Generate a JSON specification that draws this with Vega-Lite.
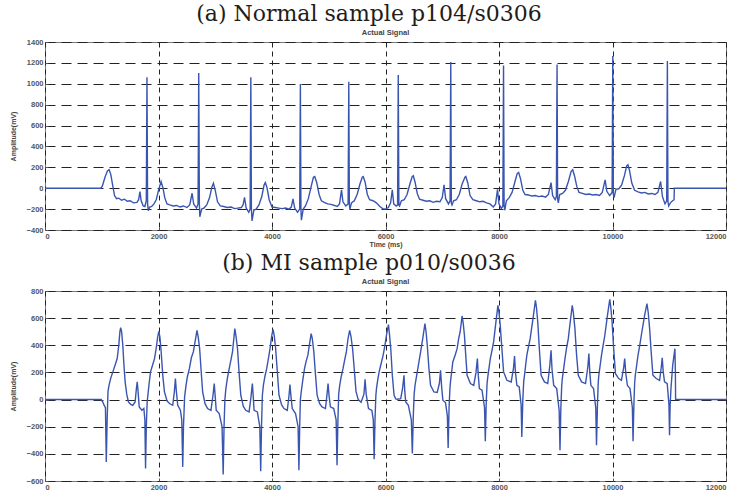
{
  "$schema": "https://vega.github.io/schema/vega-lite/v6.json",
  "background": "white",
  "padding": {"left": 8, "top": 3, "right": 0, "bottom": 0},
  "spacing": 4,
  "config": {
    "view": {"stroke": "#777777", "strokeWidth": 1},
    "axis": {
      "labelFont": "Liberation Sans", "labelFontSize": 7.5, "labelColor": "#555555", "labelFontWeight": "bold",
      "titleFont": "Liberation Sans", "titleFontSize": 7, "titleColor": "#444444", "titleFontWeight": "bold",
      "domain": false, "tickColor": "#555555", "tickSize": -3, "labelPadding": 5, "format": "d",
      "grid": true, "gridColor": "#222222", "gridWidth": 1, "gridOpacity": 1
    }
  },
  "datasets": {
    "normal": [
      {"t":0,"v":0},{"t":983,"v":0},{"t":1010,"v":20},{"t":1060,"v":110},{"t":1100,"v":165},{"t":1130,"v":177},{"t":1160,"v":130},{"t":1195,"v":20},{"t":1225,"v":-70},{"t":1260,"v":-100},{"t":1300,"v":-95},{"t":1350,"v":-115},{"t":1400,"v":-105},{"t":1450,"v":-125},{"t":1500,"v":-120},{"t":1560,"v":-140},{"t":1620,"v":-135},{"t":1650,"v":-110},{"t":1673,"v":-33},{"t":1695,"v":-120},{"t":1730,"v":-170},{"t":1760,"v":-175},{"t":1785,"v":-120},{"t":1797,"v":1063},{"t":1808,"v":-150},{"t":1820,"v":-216},{"t":1845,"v":-180},{"t":1880,"v":-175},{"t":1920,"v":-150},{"t":1960,"v":-110},{"t":2000,"v":-20},{"t":2045,"v":64},{"t":2080,"v":0},{"t":2110,"v":-90},{"t":2150,"v":-150},{"t":2200,"v":-160},{"t":2260,"v":-170},{"t":2320,"v":-165},{"t":2380,"v":-180},{"t":2440,"v":-170},{"t":2500,"v":-185},{"t":2550,"v":-160},{"t":2592,"v":-48},{"t":2620,"v":-150},{"t":2670,"v":-190},{"t":2697,"v":-150},{"t":2709,"v":1104},{"t":2720,"v":-150},{"t":2728,"v":-274},{"t":2760,"v":-200},{"t":2800,"v":-190},{"t":2850,"v":-160},{"t":2900,"v":-90},{"t":2940,"v":10},{"t":2968,"v":48},{"t":3000,"v":-20},{"t":3040,"v":-130},{"t":3090,"v":-170},{"t":3150,"v":-175},{"t":3210,"v":-185},{"t":3280,"v":-180},{"t":3340,"v":-195},{"t":3400,"v":-190},{"t":3460,"v":-185},{"t":3490,"v":-160},{"t":3516,"v":-87},{"t":3545,"v":-190},{"t":3590,"v":-230},{"t":3615,"v":-200},{"t":3627,"v":1063},{"t":3637,"v":-200},{"t":3648,"v":-313},{"t":3680,"v":-210},{"t":3720,"v":-200},{"t":3770,"v":-160},{"t":3820,"v":-80},{"t":3860,"v":30},{"t":3882,"v":54},{"t":3910,"v":10},{"t":3950,"v":-110},{"t":4000,"v":-180},{"t":4060,"v":-185},{"t":4120,"v":-190},{"t":4180,"v":-195},{"t":4240,"v":-190},{"t":4300,"v":-200},{"t":4340,"v":-180},{"t":4370,"v":-103},{"t":4400,"v":-190},{"t":4450,"v":-230},{"t":4488,"v":-200},{"t":4500,"v":998},{"t":4510,"v":-200},{"t":4518,"v":-306},{"t":4550,"v":-200},{"t":4590,"v":-170},{"t":4640,"v":-100},{"t":4700,"v":40},{"t":4730,"v":105},{"t":4753,"v":112},{"t":4790,"v":50},{"t":4830,"v":-60},{"t":4870,"v":-120},{"t":4920,"v":-135},{"t":4980,"v":-150},{"t":5040,"v":-155},{"t":5100,"v":-165},{"t":5150,"v":-175},{"t":5190,"v":-150},{"t":5225,"v":-16},{"t":5250,"v":-130},{"t":5300,"v":-170},{"t":5341,"v":-150},{"t":5353,"v":1020},{"t":5363,"v":-150},{"t":5372,"v":-203},{"t":5400,"v":-140},{"t":5450,"v":-120},{"t":5500,"v":-60},{"t":5550,"v":40},{"t":5590,"v":105},{"t":5608,"v":112},{"t":5640,"v":60},{"t":5680,"v":-60},{"t":5720,"v":-110},{"t":5780,"v":-120},{"t":5840,"v":-140},{"t":5900,"v":-175},{"t":5950,"v":-195},{"t":6000,"v":-200},{"t":6050,"v":-185},{"t":6090,"v":-140},{"t":6120,"v":-16},{"t":6145,"v":-150},{"t":6190,"v":-170},{"t":6213,"v":-160},{"t":6225,"v":1085},{"t":6236,"v":-160},{"t":6248,"v":-170},{"t":6280,"v":-120},{"t":6330,"v":-110},{"t":6380,"v":-60},{"t":6430,"v":40},{"t":6470,"v":110},{"t":6490,"v":119},{"t":6520,"v":60},{"t":6560,"v":-50},{"t":6600,"v":-105},{"t":6660,"v":-115},{"t":6720,"v":-125},{"t":6780,"v":-120},{"t":6840,"v":-135},{"t":6900,"v":-125},{"t":6960,"v":-130},{"t":7000,"v":-90},{"t":7032,"v":32},{"t":7060,"v":-100},{"t":7110,"v":-150},{"t":7138,"v":-120},{"t":7150,"v":1208},{"t":7160,"v":-140},{"t":7172,"v":-160},{"t":7200,"v":-120},{"t":7250,"v":-110},{"t":7300,"v":-60},{"t":7350,"v":40},{"t":7400,"v":105},{"t":7415,"v":112},{"t":7450,"v":50},{"t":7490,"v":-70},{"t":7540,"v":-110},{"t":7600,"v":-120},{"t":7660,"v":-130},{"t":7720,"v":-125},{"t":7780,"v":-140},{"t":7840,"v":-150},{"t":7900,"v":-180},{"t":7940,"v":-150},{"t":7974,"v":-10},{"t":8000,"v":-150},{"t":8040,"v":-195},{"t":8068,"v":-170},{"t":8080,"v":1175},{"t":8090,"v":-170},{"t":8102,"v":-210},{"t":8130,"v":-120},{"t":8180,"v":-90},{"t":8230,"v":-40},{"t":8280,"v":60},{"t":8320,"v":140},{"t":8346,"v":151},{"t":8380,"v":90},{"t":8420,"v":-20},{"t":8460,"v":-60},{"t":8520,"v":-65},{"t":8580,"v":-75},{"t":8640,"v":-70},{"t":8700,"v":-80},{"t":8760,"v":-75},{"t":8820,"v":-85},{"t":8870,"v":-60},{"t":8917,"v":54},{"t":8945,"v":-70},{"t":8990,"v":-110},{"t":9011,"v":-80},{"t":9023,"v":1185},{"t":9033,"v":-100},{"t":9045,"v":-140},{"t":9070,"v":-60},{"t":9120,"v":-50},{"t":9170,"v":-20},{"t":9220,"v":60},{"t":9270,"v":160},{"t":9299,"v":177},{"t":9330,"v":120},{"t":9370,"v":20},{"t":9410,"v":-40},{"t":9470,"v":-50},{"t":9530,"v":-60},{"t":9590,"v":-55},{"t":9650,"v":-65},{"t":9710,"v":-60},{"t":9770,"v":-70},{"t":9820,"v":-40},{"t":9870,"v":80},{"t":9900,"v":-30},{"t":9950,"v":-70},{"t":9993,"v":-40},{"t":10005,"v":1266},{"t":10015,"v":-60},{"t":10028,"v":-90},{"t":10060,"v":-10},{"t":10110,"v":-5},{"t":10160,"v":30},{"t":10210,"v":120},{"t":10250,"v":215},{"t":10272,"v":225},{"t":10300,"v":170},{"t":10340,"v":50},{"t":10390,"v":-20},{"t":10450,"v":-35},{"t":10510,"v":-45},{"t":10570,"v":-40},{"t":10630,"v":-55},{"t":10690,"v":-50},{"t":10750,"v":-60},{"t":10800,"v":-40},{"t":10848,"v":64},{"t":10880,"v":-80},{"t":10925,"v":-150},{"t":10955,"v":-120},{"t":10967,"v":1217},{"t":10977,"v":-130},{"t":10990,"v":-170},{"t":11020,"v":-140},{"t":11060,"v":-120},{"t":11085,"v":-110},{"t":11090,"v":0},{"t":12000,"v":0}
    ],
    "mi": [
      {"t":0,"v":0},{"t":990,"v":0},{"t":1020,"v":-20},{"t":1045,"v":-45},{"t":1065,"v":-60},{"t":1080,"v":-459},{"t":1095,"v":-150},{"t":1110,"v":60},{"t":1128,"v":105},{"t":1160,"v":160},{"t":1196,"v":204},{"t":1240,"v":260},{"t":1272,"v":302},{"t":1300,"v":400},{"t":1320,"v":500},{"t":1333,"v":530},{"t":1350,"v":500},{"t":1371,"v":400},{"t":1390,"v":260},{"t":1412,"v":130},{"t":1440,"v":40},{"t":1470,"v":-17},{"t":1510,"v":-35},{"t":1547,"v":-42},{"t":1588,"v":-17},{"t":1610,"v":80},{"t":1625,"v":130},{"t":1640,"v":60},{"t":1660,"v":-54},{"t":1707,"v":-79},{"t":1742,"v":-66},{"t":1760,"v":-150},{"t":1772,"v":-508},{"t":1785,"v":-200},{"t":1800,"v":-20},{"t":1813,"v":32},{"t":1835,"v":120},{"t":1860,"v":204},{"t":1900,"v":260},{"t":1930,"v":302},{"t":1960,"v":380},{"t":1985,"v":460},{"t":2006,"v":503},{"t":2025,"v":460},{"t":2047,"v":351},{"t":2075,"v":180},{"t":2105,"v":56},{"t":2150,"v":-10},{"t":2193,"v":-29},{"t":2251,"v":-42},{"t":2280,"v":60},{"t":2298,"v":155},{"t":2315,"v":60},{"t":2339,"v":-42},{"t":2386,"v":-79},{"t":2410,"v":-150},{"t":2427,"v":-496},{"t":2440,"v":-200},{"t":2460,"v":20},{"t":2485,"v":105},{"t":2510,"v":170},{"t":2544,"v":228},{"t":2580,"v":310},{"t":2614,"v":351},{"t":2650,"v":440},{"t":2678,"v":510},{"t":2700,"v":460},{"t":2725,"v":376},{"t":2750,"v":220},{"t":2778,"v":56},{"t":2820,"v":-30},{"t":2865,"v":-66},{"t":2924,"v":-79},{"t":2960,"v":30},{"t":2982,"v":118},{"t":3000,"v":20},{"t":3017,"v":-79},{"t":3070,"v":-103},{"t":3120,"v":-200},{"t":3140,"v":-552},{"t":3155,"v":-200},{"t":3170,"v":0},{"t":3187,"v":81},{"t":3215,"v":160},{"t":3246,"v":228},{"t":3280,"v":300},{"t":3304,"v":351},{"t":3330,"v":460},{"t":3345,"v":523},{"t":3365,"v":470},{"t":3392,"v":376},{"t":3420,"v":200},{"t":3450,"v":32},{"t":3495,"v":-50},{"t":3538,"v":-79},{"t":3596,"v":-91},{"t":3630,"v":20},{"t":3654,"v":118},{"t":3670,"v":20},{"t":3684,"v":-79},{"t":3742,"v":-91},{"t":3785,"v":-200},{"t":3801,"v":-528},{"t":3815,"v":-200},{"t":3830,"v":30},{"t":3848,"v":105},{"t":3875,"v":170},{"t":3906,"v":228},{"t":3940,"v":310},{"t":3965,"v":376},{"t":3995,"v":470},{"t":4018,"v":518},{"t":4040,"v":470},{"t":4064,"v":376},{"t":4095,"v":200},{"t":4123,"v":32},{"t":4170,"v":-40},{"t":4211,"v":-66},{"t":4269,"v":-79},{"t":4300,"v":30},{"t":4316,"v":110},{"t":4335,"v":20},{"t":4357,"v":-66},{"t":4415,"v":-103},{"t":4460,"v":-200},{"t":4474,"v":-520},{"t":4488,"v":-200},{"t":4500,"v":0},{"t":4515,"v":56},{"t":4545,"v":150},{"t":4573,"v":228},{"t":4600,"v":280},{"t":4632,"v":327},{"t":4665,"v":420},{"t":4690,"v":486},{"t":4710,"v":450},{"t":4737,"v":351},{"t":4765,"v":190},{"t":4795,"v":32},{"t":4840,"v":-30},{"t":4883,"v":-54},{"t":4942,"v":-66},{"t":4970,"v":40},{"t":4988,"v":118},{"t":5005,"v":30},{"t":5029,"v":-54},{"t":5088,"v":-66},{"t":5130,"v":-150},{"t":5146,"v":-483},{"t":5160,"v":-180},{"t":5175,"v":40},{"t":5193,"v":105},{"t":5220,"v":170},{"t":5251,"v":228},{"t":5280,"v":290},{"t":5310,"v":351},{"t":5340,"v":450},{"t":5368,"v":510},{"t":5390,"v":470},{"t":5420,"v":376},{"t":5450,"v":220},{"t":5480,"v":60},{"t":5520,"v":0},{"t":5570,"v":-20},{"t":5620,"v":40},{"t":5640,"v":150},{"t":5660,"v":40},{"t":5700,"v":-66},{"t":5760,"v":-80},{"t":5785,"v":-150},{"t":5800,"v":-439},{"t":5815,"v":-150},{"t":5830,"v":30},{"t":5841,"v":81},{"t":5865,"v":150},{"t":5888,"v":204},{"t":5920,"v":260},{"t":5958,"v":326},{"t":5990,"v":400},{"t":6017,"v":474},{"t":6052,"v":552},{"t":6070,"v":480},{"t":6093,"v":375},{"t":6120,"v":180},{"t":6151,"v":32},{"t":6180,"v":5},{"t":6210,"v":2},{"t":6268,"v":7},{"t":6300,"v":80},{"t":6326,"v":179},{"t":6340,"v":60},{"t":6356,"v":-17},{"t":6403,"v":-42},{"t":6455,"v":-150},{"t":6473,"v":-398},{"t":6490,"v":-120},{"t":6505,"v":40},{"t":6520,"v":105},{"t":6560,"v":204},{"t":6590,"v":280},{"t":6619,"v":351},{"t":6660,"v":460},{"t":6695,"v":560},{"t":6715,"v":500},{"t":6736,"v":400},{"t":6765,"v":230},{"t":6794,"v":105},{"t":6853,"v":56},{"t":6911,"v":52},{"t":6950,"v":120},{"t":6970,"v":216},{"t":6990,"v":90},{"t":7011,"v":-5},{"t":7057,"v":-22},{"t":7090,"v":-120},{"t":7104,"v":-356},{"t":7120,"v":-60},{"t":7135,"v":80},{"t":7145,"v":130},{"t":7186,"v":277},{"t":7230,"v":330},{"t":7262,"v":375},{"t":7290,"v":450},{"t":7315,"v":498},{"t":7350,"v":616},{"t":7370,"v":560},{"t":7391,"v":474},{"t":7415,"v":320},{"t":7438,"v":179},{"t":7496,"v":118},{"t":7555,"v":105},{"t":7595,"v":200},{"t":7619,"v":302},{"t":7635,"v":180},{"t":7654,"v":81},{"t":7701,"v":69},{"t":7745,"v":-60},{"t":7759,"v":-307},{"t":7775,"v":-20},{"t":7790,"v":120},{"t":7806,"v":179},{"t":7847,"v":302},{"t":7880,"v":370},{"t":7905,"v":425},{"t":7946,"v":572},{"t":7981,"v":694},{"t":8000,"v":640},{"t":8022,"v":547},{"t":8050,"v":380},{"t":8081,"v":204},{"t":8139,"v":142},{"t":8215,"v":130},{"t":8255,"v":230},{"t":8274,"v":321},{"t":8290,"v":200},{"t":8315,"v":105},{"t":8356,"v":93},{"t":8390,"v":-40},{"t":8402,"v":-275},{"t":8420,"v":0},{"t":8435,"v":130},{"t":8449,"v":179},{"t":8490,"v":326},{"t":8520,"v":390},{"t":8549,"v":449},{"t":8607,"v":621},{"t":8642,"v":731},{"t":8660,"v":680},{"t":8683,"v":572},{"t":8710,"v":380},{"t":8742,"v":179},{"t":8800,"v":130},{"t":8859,"v":118},{"t":8895,"v":250},{"t":8917,"v":363},{"t":8935,"v":220},{"t":8964,"v":105},{"t":9017,"v":81},{"t":9060,"v":-80},{"t":9075,"v":-373},{"t":9090,"v":-60},{"t":9105,"v":100},{"t":9116,"v":155},{"t":9163,"v":302},{"t":9190,"v":380},{"t":9221,"v":449},{"t":9260,"v":590},{"t":9291,"v":694},{"t":9310,"v":640},{"t":9338,"v":523},{"t":9365,"v":340},{"t":9397,"v":179},{"t":9455,"v":130},{"t":9525,"v":118},{"t":9565,"v":240},{"t":9584,"v":339},{"t":9600,"v":200},{"t":9619,"v":105},{"t":9666,"v":81},{"t":9705,"v":-60},{"t":9718,"v":-336},{"t":9735,"v":-40},{"t":9748,"v":120},{"t":9759,"v":179},{"t":9806,"v":326},{"t":9835,"v":400},{"t":9865,"v":474},{"t":9911,"v":621},{"t":9952,"v":739},{"t":9970,"v":680},{"t":9993,"v":572},{"t":10020,"v":380},{"t":10052,"v":191},{"t":10110,"v":155},{"t":10157,"v":142},{"t":10195,"v":230},{"t":10215,"v":302},{"t":10235,"v":190},{"t":10262,"v":105},{"t":10309,"v":81},{"t":10350,"v":-60},{"t":10362,"v":-307},{"t":10378,"v":-20},{"t":10390,"v":120},{"t":10402,"v":179},{"t":10449,"v":326},{"t":10480,"v":400},{"t":10508,"v":474},{"t":10566,"v":621},{"t":10607,"v":707},{"t":10630,"v":640},{"t":10654,"v":523},{"t":10685,"v":330},{"t":10712,"v":179},{"t":10771,"v":155},{"t":10830,"v":142},{"t":10860,"v":240},{"t":10876,"v":307},{"t":10895,"v":200},{"t":10917,"v":130},{"t":10964,"v":118},{"t":10995,"v":-40},{"t":11005,"v":-263},{"t":11015,"v":-50},{"t":11030,"v":80},{"t":11060,"v":250},{"t":11100,"v":375},{"t":11108,"v":200},{"t":11112,"v":0},{"t":12000,"v":0}
    ]
  },
  "vconcat": [
    {
      "title": {"text": "(a) Normal sample p104/s0306", "frame": "bounds", "anchor": "middle", "font": "DejaVu Serif", "fontSize": 22, "fontWeight": "normal", "color": "#231c18", "offset": 2},
      "vconcat": [
        {
          "title": {"text": "Actual Signal", "frame": "group", "anchor": "middle", "font": "Liberation Sans", "fontSize": 7.5, "fontWeight": "bold", "color": "#444444", "offset": 2},
          "width": 681, "height": 188,
          "data": {"name": "normal"},
          "mark": {"type": "line", "color": "#3a55b0", "strokeWidth": 1.4},
          "encoding": {
            "x": {"field": "t", "type": "quantitative", "scale": {"domain": [0, 12000], "nice": false},
                  "axis": {"values": [0, 2000, 4000, 6000, 8000, 10000, 12000], "title": "Time (ms)", "gridDash": [5, 4], "titlePadding": 1}},
            "y": {"field": "v", "type": "quantitative", "scale": {"domain": [-400, 1400], "nice": false},
                  "axis": {"values": [-400, -200, 0, 200, 400, 600, 800, 1000, 1200, 1400], "title": "Amplitude(mV)", "gridDash": [10, 6], "titlePadding": 10}}
          }
        }
      ]
    },
    {
      "title": {"text": "(b) MI sample p010/s0036", "frame": "bounds", "anchor": "middle", "font": "DejaVu Serif", "fontSize": 22, "fontWeight": "normal", "color": "#231c18", "offset": 2},
      "vconcat": [
        {
          "title": {"text": "Actual Signal", "frame": "group", "anchor": "middle", "font": "Liberation Sans", "fontSize": 7.5, "fontWeight": "bold", "color": "#444444", "offset": 2},
          "width": 681, "height": 190,
          "data": {"name": "mi"},
          "mark": {"type": "line", "color": "#3a55b0", "strokeWidth": 1.4},
          "encoding": {
            "x": {"field": "t", "type": "quantitative", "scale": {"domain": [0, 12000], "nice": false},
                  "axis": {"values": [0, 2000, 4000, 6000, 8000, 10000, 12000], "title": "Time (ms)", "gridDash": [5, 4], "titlePadding": 1}},
            "y": {"field": "v", "type": "quantitative", "scale": {"domain": [-600, 800], "nice": false},
                  "axis": {"values": [-600, -400, -200, 0, 200, 400, 600, 800], "title": "Amplitude(mV)", "gridDash": [10, 6], "titlePadding": 10}}
          }
        }
      ]
    }
  ]
}
